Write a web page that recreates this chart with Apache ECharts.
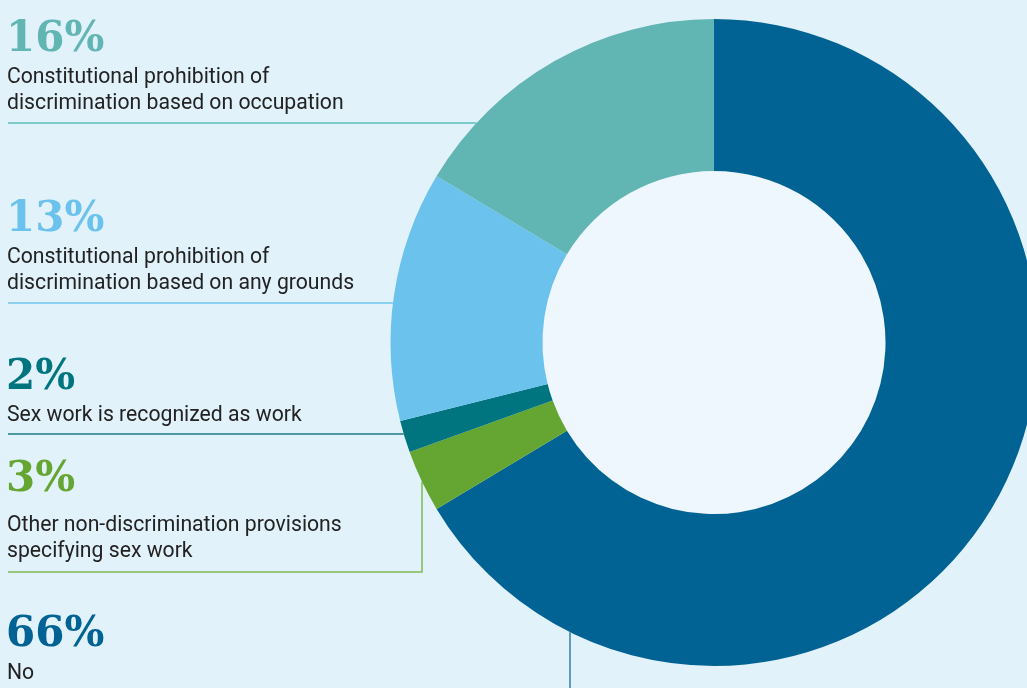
<!DOCTYPE html>
<html>
<head>
<meta charset="utf-8">
<script src="https://cdn.jsdelivr.net/npm/echarts@6/dist/echarts.min.js"></script>
<style>
html,body{margin:0;padding:0;background:#e2f2fb;}
#chart{width:1027px;height:688px;}
</style>
</head>
<body>
<div id="chart"></div>
<script>
// ---- data (clockwise from 12 o'clock) ----
const categories = [
  "No",
  "Other non-discrimination provisions\nspecifying sex work",
  "Sex work is recognized as work",
  "Constitutional prohibition of\ndiscrimination based on any grounds",
  "Constitutional prohibition of\ndiscrimination based on occupation"
];
const values = [66.4, 3.1, 1.6, 12.5, 16.4];
const pctLabels = ["66%", "3%", "2%", "13%", "16%"];
const colors = ["#006394", "#65a531", "#007580", "#6bc2ec", "#61b5b3"];
const lineColors = ["#2f7eae", "#7fbb55", "#1d7c87", "#6ec4ec", "#5dbfb9"];

// ---- layout ----
const CX = 714, CY = 342.5, R_OUT = 323.5, R_IN = 171.5;
const PCT_SIZE = 42, TXT_SIZE = 21.2;
const blocks = [
  {i:4, pctBase:52,  textBase:[83,109],  line:{type:'h', y:123}},
  {i:3, pctBase:232, textBase:[263,289], line:{type:'h', y:303}},
  {i:2, pctBase:390, textBase:[421],     line:{type:'h', y:434}},
  {i:1, pctBase:492, textBase:[531,557], line:{type:'hv', y:572, x:422}},
  {i:0, pctBase:647, textBase:[679],     line:{type:'v', x:570}}
];

const chart = echarts.init(document.getElementById('chart'), null, {renderer:'canvas'});

function edgeX(y){ return CX - Math.sqrt(R_OUT*R_OUT - (y-CY)*(y-CY)); }
function edgeY(x){ return CY + Math.sqrt(R_OUT*R_OUT - (x-CX)*(x-CX)); }

const graphics = [];
blocks.forEach(b => {
  const c = colors[b.i];
  graphics.push({
    type:'text', silent:true, z:10,
    style:{x:6, y:b.pctBase - PCT_SIZE*0.345 + 2.5, text:pctLabels[b.i], fill:c,
      font:'bold ' + PCT_SIZE + 'px "DejaVu Serif"', verticalAlign:'middle', align:'left'}
  });
  categories[b.i].split('\n').forEach((ln, k) => {
    graphics.push({
      type:'text', silent:true, z:10,
      style:{x:7, y:b.textBase[k] - TXT_SIZE*0.34 + 1.5, text:ln, fill:'#222222',
        font:TXT_SIZE + 'px Roboto', verticalAlign:'middle', align:'left'}
    });
  });
  let pts;
  if (b.line.type === 'h') pts = [[8,b.line.y],[edgeX(b.line.y),b.line.y]];
  else if (b.line.type === 'hv') pts = [[8,b.line.y],[b.line.x,b.line.y],[b.line.x,edgeY(b.line.x)]];
  else pts = [[b.line.x,688],[b.line.x,edgeY(b.line.x)]];
  graphics.push({
    type:'polyline', silent:true, z:1,
    shape:{points:pts},
    style:{stroke:lineColors[b.i], lineWidth:1.5, fill:null}
  });
});

chart.setOption({
  backgroundColor:'#e2f2fb',
  animation:false,
  graphic:graphics,
  series:[
    {
      type:'pie', silent:true, z:1,
      center:[CX, CY], radius:[0, R_IN + 1],
      label:{show:false}, labelLine:{show:false},
      itemStyle:{color:'#eef7fd'},
      data:[{value:1, name:'inner'}]
    },
    {
      type:'pie', z:5,
      center:[CX, CY], radius:[R_IN, R_OUT],
      startAngle:90, clockwise:true,
      avoidLabelOverlap:false,
      label:{show:false}, labelLine:{show:false},
      itemStyle:{borderWidth:0},
      emphasis:{disabled:true},
      data: categories.map((n, i) => ({name:n, value:values[i], itemStyle:{color:colors[i]}}))
    }
  ]
});
</script>
</body>
</html>
